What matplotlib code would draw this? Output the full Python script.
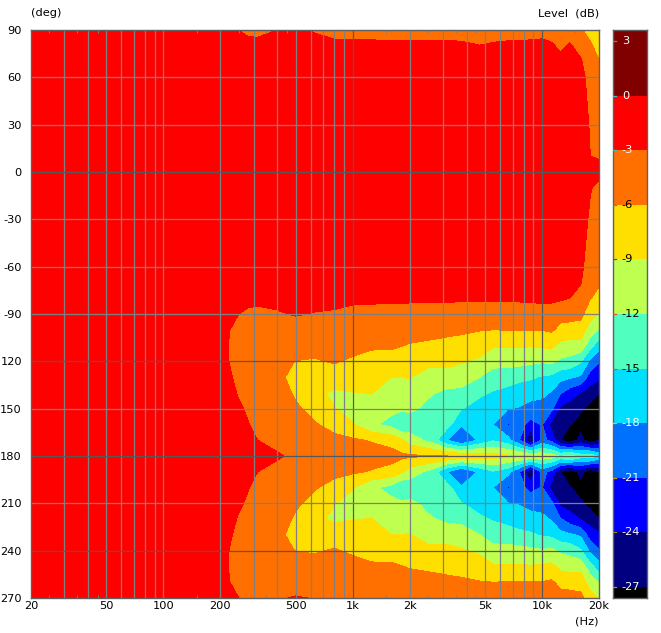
import numpy as np
import matplotlib
matplotlib.use("Agg")
import matplotlib.pyplot as plt
from matplotlib.colors import ListedColormap, BoundaryNorm

FONT = "DejaVu Sans"
plt.rcParams["font.family"] = FONT

FREQ = [20,200,225,250,280,315,400,500,630,800,1000,1250,1600,1800,2000,2500,3150,3750,4700,5500,
        6600,7600,8700,10000,11200,12500,14000,16000,18000,20000]

R90 = [-2.0,-2.3,-2.6,-3.0,-3.5,-3.6,-3.0,-2.6,-3.2,-3.8,-4,-4,-4,-4,-4.1,-4,-4,-4,-4.3,-4.1,-4.1,-4,-4,-3.9,-4,-4.3,-4.2,-5.8,-6.8,-7.5]
R80 = [-1.8,-1.9,-2,-2.1,-2.3,-2.3,-2.1,-2.0,-2.2,-2.4,-2.4,-2.4,-2.5,-2.5,-2.5,-2.5,-2.5,-2.6,-2.95,-2.7,-2.5,-2.5,-2.4,-2.3,-2.7,-3.5,-2.7,-4,-5.7,-6.9]
R70 = [-1.7,-1.8,-1.8,-1.9,-1.9,-1.9,-1.9,-1.8,-1.9,-1.9,-1.9,-1.9,-1.9,-1.9,-1.9,-1.9,-1.9,-1.9,-2,-2,-1.9,-1.9,-1.9,-1.9,-2.0,-2.3,-2.2,-2.7,-5,-5.9]
R60 = [-1.6]*27 + [-2.2,-4.0,-5.2]
R30 = [-1.4]*27 + [-2.0,-3.2,-4.5]
R10 = [-1.2]*27 + [-1.7,-3.0,-3.1]
R0  = [-1.0]*27 + [-1.4,-2.0,-2.6]
M10 = [-1.2]*27 + [-1.6,-2.9,-3.4]
M30 = [-1.4]*27 + [-2.2,-3.3,-4.6]
M60 = [-1.7]*27 + [-2.6,-4.0,-5.4]
M70 = [-1.9]*25 + [-2.0,-2.2,-2.9,-4.6,-5.6]
M80 = [-1.9,-2.0,-2.3,-2.6,-2.7,-2.7,-2.4,-2.2,-2.3,-2.5,-2.7,-2.7,-2.7,-2.7,-2.7,-2.7,-2.7,-2.7,-2.7,-2.7,-2.7,-2.6,-2.5,-2.5,-2.5,-2.6,-3.0,-3.6,-5.9,-7.0]
M90 = [-1.5,-2.2,-2.7,-3.0,-3.2,-3.3,-3.2,-2.85,-3.1,-3.2,-3.4,-3.5,-3.6,-3.65,-3.7,-3.8,-3.9,-4.0,-4.0,-4.1,-4.2,-4.3,-4.2,-4.1,-4.1,-5.1,-5.0,-5.2,-7.9,-9.2]
M100 = [-1.5,-2.5,-3.0,-3.3,-3.5,-3.7,-3.9,-4.0,-4.0,-4.1,-4.2,-4.4,-4.6,-4.7,-4.8,-5.0,-5.5,-5.6,-5.9,-6.0,-5.9,-5.9,-5.9,-5.9,-5.6,-6.7,-7.0,-7.3,-10.4,-12.2]
M110 = [-1.6,-2.6,-3.1,-3.4,-3.6,-3.9,-4.6,-5.0,-5.2,-5.0,-5.1,-5.6,-5.7,-5.9,-6.2,-6.5,-6.6,-6.9,-7.4,-8.7,-8.8,-8.7,-8.8,-8.6,-8.3,-9.9,-10.2,-10,-14,-16.8]
M120 = [-1.6,-2.6,-3.05,-3.4,-3.6,-4.0,-5.3,-6.05,-6.2,-5.8,-6.4,-7.0,-6.9,-7.3,-7.7,-8.3,-8.4,-8.7,-9.6,-10.8,-10.9,-11.0,-11.4,-11.7,-11.4,-12.5,-12.9,-14.7,-18.7,-20.7]
M130 = [-1.6,-2.5,-2.9,-3.3,-3.55,-3.9,-5.6,-6.6,-7.3,-7.2,-7.6,-8.0,-9.0,-8.95,-8.9,-10.0,-9.9,-10.9,-12.0,-13.6,-13.6,-14.2,-14.6,-15.3,-15.6,-17.0,-17.6,-18.4,-22.6,-23.5]
M140 = [-1.7,-2.3,-2.7,-3.1,-3.4,-3.7,-5.1,-6.3,-8.4,-9.5,-9.1,-8.9,-10.3,-10.3,-10.3,-11.6,-12.7,-12.6,-14.6,-15.2,-16.0,-16.6,-17.0,-17.4,-18.2,-20.8,-22.5,-24.1,-25.3,-27.0]
M150 = [-1.7,-2.1,-2.5,-2.85,-3.15,-3.5,-4.2,-5.7,-6.7,-8.9,-10.0,-10.3,-11.3,-11.4,-11.4,-12.7,-13.4,-14.9,-16.0,-16.8,-17.9,-18.2,-19.0,-19.0,-20.2,-24.8,-25.6,-26.6,-28,-28.5]
M160 = [-1.8,-1.9,-2.2,-2.5,-2.95,-3.3,-3.7,-4.8,-5.8,-6.9,-8.8,-11.5,-12.9,-15.2,-13.8,-13.6,-13.9,-17.6,-17.6,-18.0,-21.3,-20.0,-22.0,-20.8,-25,-25.6,-26.8,-28,-29,-29]
M170 = [-1.8,-1.7,-2.0,-2.2,-2.5,-3.0,-3.4,-3.9,-4.5,-5.3,-5.6,-6.2,-7.0,-8.4,-10.4,-12.6,-17.9,-21.2,-17.4,-15.3,-17.0,-21.0,-27.2,-20.0,-22.0,-26.9,-29,-26,-29,-27.2]
M180 = [-1.8,-1.3,-1.5,-1.7,-1.9,-2.2,-2.85,-3.3,-3.7,-4.1,-4.3,-4.7,-5.0,-5.4,-5.6,-5.8,-6.0,-6.7,-7.2,-7.8,-8.5,-8.7,-9,-10,-10.5,-12.5,-11,-13.5,-13,-16]

TOP_ANGLES = [90,80,70,60,30,10,0,-10,-30,-60,-70,-80]
TOP_ROWS = [R90,R80,R70,R60,R30,R10,R0,M10,M30,M60,M70,M80]
HALF_ANGLES = [-90,-100,-110,-120,-130,-140,-150,-160,-170,-180]
HALF_ROWS = [M90,M100,M110,M120,M130,M140,M150,M160,M170,M180]
MIRROR_ANGLES = [-190,-200,-210,-220,-230,-240,-250,-260,-270]
MIRROR_ROWS = [M170,M160,M150,M140,M130,M120,M110,M100,M90]

LEVELS = [-40,-27,-24,-21,-18,-15,-12,-9,-6,-3,0,3.6]
COLORS = ["#000000","#000080","#0000FF","#0070FF","#00DFFF","#50FFBF","#BFFF4F","#FFDF00","#FF7000","#FF0000","#800000"]
BAR_TICKS = [3,0,-3,-6,-9,-12,-15,-18,-21,-24,-27]
BAR_TICK_COLORS = ["#40A0A0","#40C0C0","#40C0A0","#6080A0","#2060C0","#E05020","#C06040","#E0C040","#C0A000","#A08000","#909090"]
BAR_TEXT_COLORS = ["white","white","white","black","black","black","black","white","white","white","white"]

Y_TICKS = [90,60,30,0,-30,-60,-90,-120,-150,-180,-210,-240,-270]
Y_LABELS = ["90","60","30","0","-30","-60","-90","120","150","180","210","240","270"]
Y_DARK = [0,-120,-180,-240]
X_LABEL_TICKS = [20,50,100,200,500,1000,2000,5000,10000,20000]
X_LABELS = ["20","50","100","200","500","1k","2k","5k","10k","20k"]
GRID_FREQ = [30,40,50,60,70,80,90,100,200,300,400,500,600,700,800,900,1000,2000,3000,4000,5000,6000,7000,8000,9000,10000]
GRID_DARK = [1000,10000]
MINOR_TICKS = [25,35,45,150,250,350,450,1500,2500,3500,4500,15000]

W, H = 661, 633
fig = plt.figure(figsize=(W/100, H/100), dpi=100, facecolor="white")
def rect(x0, y0, x1, y1):
    return [x0/W, 1-y1/H, (x1-x0)/W, (y1-y0)/H]

ax = fig.add_axes(rect(31, 30, 599, 598))
angles = TOP_ANGLES + HALF_ANGLES + MIRROR_ANGLES
Z = np.array(TOP_ROWS + HALF_ROWS + MIRROR_ROWS)
cmap = ListedColormap(COLORS)
norm = BoundaryNorm(LEVELS, cmap.N)
ax.contourf(FREQ, angles, Z, levels=LEVELS, cmap=cmap, norm=norm, antialiased=False)
ax.set_xscale("log")
ax.set_xlim(20, 20000)
ax.set_ylim(-270, 90)

ax.set_yticks(Y_TICKS)
ax.set_yticklabels(Y_LABELS, fontsize=8.2)
ax.set_xticks(X_LABEL_TICKS)
ax.set_xticklabels(X_LABELS, fontsize=8.2)
ax.set_xticks(MINOR_TICKS, minor=True)
ax.set_xticklabels([""]*len(MINOR_TICKS), minor=True)
ax.tick_params(axis="y", which="major", length=0, pad=6.5)
ax.tick_params(axis="x", which="major", length=0, pad=2.5)
ax.tick_params(axis="x", which="minor", direction="in", length=2.2, width=0.7, color="#808080", top=True, bottom=True)

for f in GRID_FREQ:
    ax.axvline(f, color="#585858" if f in GRID_DARK else "#808080", lw=0.9, zorder=3)
for a in Y_TICKS[1:-1]:
    ax.axhline(a, color="#585858" if a in Y_DARK else "#808080", lw=0.9, zorder=3)
for s in ax.spines.values():
    s.set_color("#606060")
    s.set_linewidth(1.0)
    s.set_zorder(4)

fig.text(31/W, 1-13/H, "(deg)", fontsize=8.2, ha="left", va="center")
fig.text(599/W, 1-13/H, "Level  (dB)", fontsize=8.2, ha="right", va="center")
fig.text(599/W, 1-621/H, "(Hz)", fontsize=8.2, ha="right", va="center")

bar = fig.add_axes(rect(613, 30, 647, 598))
edges = [-27.6] + LEVELS[1:]
bar.barh(edges[:-1], 1, height=np.diff(edges), left=0, align="edge", color=COLORS, linewidth=0)
bar.set_xlim(0, 1)
bar.set_ylim(-27.6, 3.6)
bar.set_xticks([])
bar.set_yticks([])
for s in bar.spines.values():
    s.set_color("#606060")
    s.set_linewidth(1.0)
for t, tc, lc in zip(BAR_TICKS, BAR_TICK_COLORS, BAR_TEXT_COLORS):
    bar.plot([0, 0.1], [t, t], color=tc, lw=0.9, zorder=3)
    bar.text(0.26, t, str(t), color=lc, fontsize=8.2, ha="left", va="center")

fig.savefig("out.png", dpi=100)
